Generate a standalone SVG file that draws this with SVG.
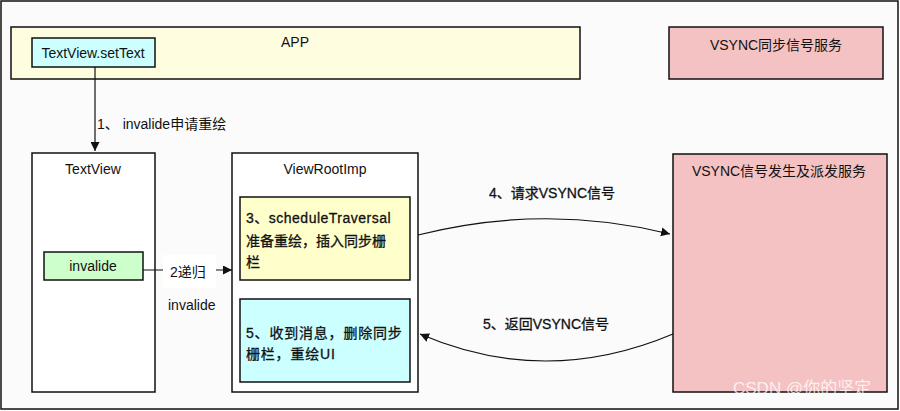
<svg xmlns="http://www.w3.org/2000/svg" width="900" height="411" viewBox="0 0 900 411">
<defs>
<style>
.t{font-family:"Liberation Sans","Noto Sans CJK SC",sans-serif;font-size:14px;fill:#111}
.b{stroke:#111;stroke-width:0.3}
.c{text-anchor:middle}
.box{stroke:#111;stroke-width:1.5}
.con{fill:none;stroke:#111;stroke-width:1.2}
</style>
<marker id="ah" viewBox="0 0 10 10" refX="10" refY="5" markerWidth="9" markerHeight="9" markerUnits="userSpaceOnUse" orient="auto">
<path d="M0,0 L10,5 L0,10 z" fill="#111"/>
</marker>
</defs>
<rect x="1" y="1" width="897" height="408" fill="#fbfbfb" stroke="#111" stroke-width="1.5"/>

<g id="app">
<rect class="box" x="11" y="27" width="569" height="52" fill="#fffde0"/>
<text class="t c" x="295" y="47">APP</text>
</g>
<g id="setText">
<rect class="box" x="32" y="38" width="123" height="29" fill="#ccffff"/>
<text class="t c" x="93" y="58">TextView.setText</text>
</g>
<g id="vsyncService">
<rect class="box" x="669" y="27" width="214" height="52" fill="#f4c2c2"/>
<text class="t c" x="776" y="50">VSYNC同步信号服务</text>
</g>

<g id="textView">
<rect class="box" x="32" y="153" width="123" height="239" fill="#ffffff"/>
<text class="t c" x="93" y="174">TextView</text>
</g>
<g id="invalide">
<rect class="box" x="44" y="252" width="99" height="28" fill="#ccffcc"/>
<text class="t c" x="93" y="271">invalide</text>
</g>

<g id="viewRootImp">
<rect class="box" x="232" y="153" width="186" height="239" fill="#ffffff"/>
<text class="t c" x="325" y="174">ViewRootImp</text>
</g>
<g id="scheduleTraversal">
<rect class="box" x="240" y="197" width="170" height="83" fill="#ffffcc"/>
<text class="t b" x="246" y="223" style="letter-spacing:0.5px">3、scheduleTraversal</text>
<text class="t b" x="246" y="246">准备重绘，插入同步栅</text>
<text class="t b" x="246" y="267">栏</text>
</g>
<g id="receive">
<rect class="box" x="240" y="299" width="170" height="83" fill="#ccffff"/>
<text class="t b" x="246" y="338" style="letter-spacing:0.8px">5、收到消息，删除同步</text>
<text class="t b" x="246" y="359" style="letter-spacing:0.8px">栅栏，重绘UI</text>
</g>

<g id="vsyncDispatch">
<rect class="box" x="673" y="154" width="214" height="238" fill="#f4c2c2"/>
<text class="t c" x="779" y="176">VSYNC信号发生及派发服务</text>
</g>

<g id="connectors">
<path class="con" d="M95,67 L95,151" marker-end="url(#ah)"/>
<text class="t" x="97" y="129">1、 invalide申请重绘</text>
<path class="con" d="M143,270 L232,270" marker-end="url(#ah)"/>
<rect x="163" y="255" width="53" height="33" fill="#ffffff"/>
<text class="t" x="170" y="277">2递归</text>
<text class="t" x="168" y="310">invalide</text>
<path class="con" d="M418,235 Q545,203 670,234" marker-end="url(#ah)"/>
<text class="t b" x="489" y="198">4、请求VSYNC信号</text>
<path class="con" d="M673,334 Q545,388 420,334" marker-end="url(#ah)"/>
<text class="t b" x="483" y="329">5、返回VSYNC信号</text>
</g>

<text x="733" y="394" style="font-family:'Liberation Sans','Noto Sans CJK SC',sans-serif;font-size:17px;fill:#ffffff;fill-opacity:0.75">CSDN @你的坚定</text>
</svg>
